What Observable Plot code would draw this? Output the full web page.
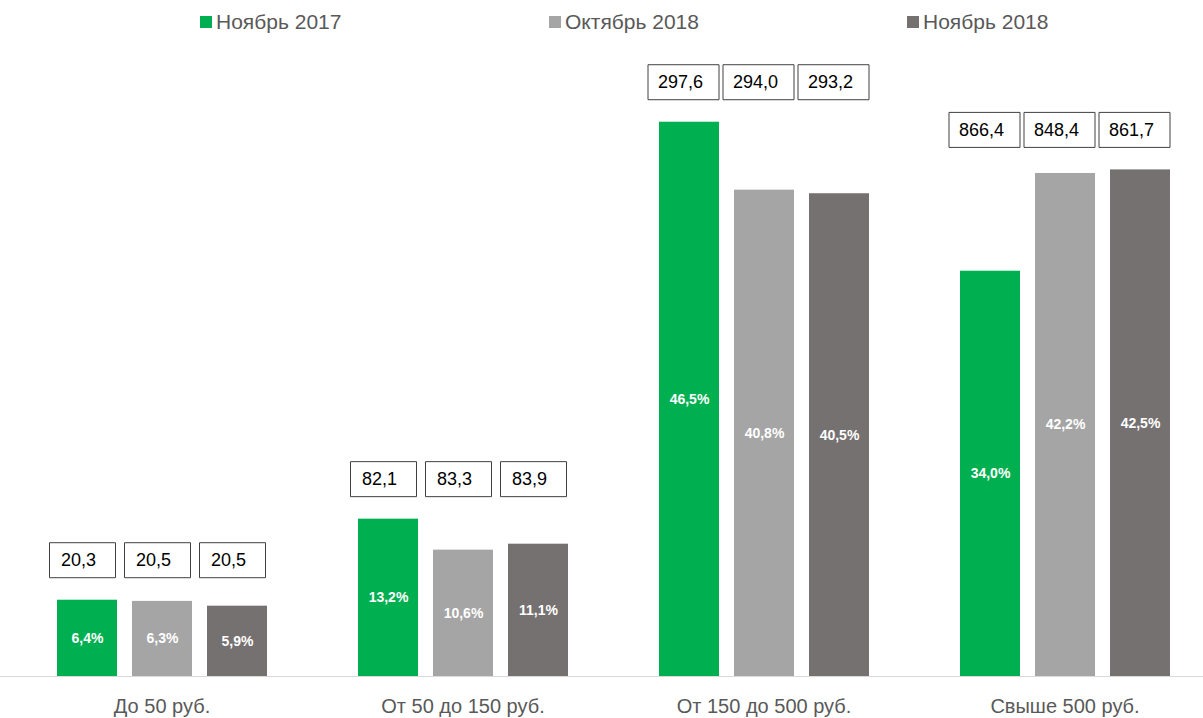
<!DOCTYPE html>
<html><head><meta charset="utf-8">
<script src="https://cdn.jsdelivr.net/npm/d3@7"></script>
<script src="https://cdn.jsdelivr.net/npm/@observablehq/plot@0.6"></script>
<style>
body{margin:0;background:#fff;overflow:hidden;font-family:"Liberation Sans",Arial,sans-serif;}
#legend{position:relative;height:45px;width:1203px;}
.item{position:absolute;top:10px;font-size:21px;line-height:24px;color:#595959;display:flex;align-items:center;white-space:nowrap;}
.sw{width:12px;height:12px;margin-right:4px;}
#chart svg{display:block;}
</style></head><body>
<div id="legend"></div><div id="chart"></div>
<script>
const categories = ["До 50 руб.", "От 50 до 150 руб.", "От 150 до 500 руб.", "Свыше 500 руб."];
const series = ["Ноябрь 2017", "Октябрь 2018", "Ноябрь 2018"];
const colors = ["#00B050", "#A5A5A5", "#767171"];
const shareNov2017 = [6.4, 13.2, 46.5, 34.0];
const shareOct2018 = [6.3, 10.6, 40.8, 42.2];
const shareNov2018 = [5.9, 11.1, 40.5, 42.5];
const amountNov2017 = ["20,3", "82,1", "297,6", "866,4"];
const amountOct2018 = ["20,5", "83,3", "294,0", "848,4"];
const amountNov2018 = ["20,5", "83,9", "293,2", "861,7"];

const shares = [shareNov2017, shareOct2018, shareNov2018];
const amounts = [amountNov2017, amountOct2018, amountNov2018];
const rows = [];
categories.forEach((c, i) => {
  const gmax = Math.max(...shares.map(s => s[i]));
  series.forEach((s, j) => rows.push({category: c, series: s, share: shares[j][i], amount: amounts[j][i], groupMax: gmax}));
});

// legend
const legend = document.getElementById("legend");
const legendLeft = [200, 549, 907];
series.forEach((s, j) => {
  const it = document.createElement("div");
  it.className = "item";
  it.style.left = legendLeft[j] + "px";
  it.innerHTML = `<span class="sw" style="background:${colors[j]}"></span><span>${s}</span>`;
  legend.appendChild(it);
});

function boxSymbol(w, h) {
  return {draw(ctx) {
    ctx.moveTo(-w/2, -h/2); ctx.lineTo(w/2, -h/2); ctx.lineTo(w/2, h/2); ctx.lineTo(-w/2, h/2); ctx.closePath();
  }};
}
const fmtPct = v => v.toFixed(1).replace(".", ",") + "%";

const chart = Plot.plot({
  width: 1203, height: 673,
  marginTop: 35, marginBottom: 42, marginLeft: 12, marginRight: 0,
  style: {fontFamily: "Liberation Sans, Arial, sans-serif", fontSize: "20px", color: "#595959", background: "white"},
  facet: {data: rows, x: "category"},
  fx: {domain: categories, range: [11, 1215], padding: 0, label: null, tickSize: 0, tickPadding: 22},
  x: {domain: series, paddingInner: 0.2, paddingOuter: 0.6, axis: null},
  y: {domain: [0, 50], axis: null},
  color: {domain: series, range: colors},
  marks: [
    Plot.ruleY([0], {stroke: "#D9D9D9", strokeWidth: 1, insetLeft: -12}),
    Plot.barY(rows, {x: "series", y: "share", fill: "series"}),
    Plot.text(rows, {x: "series", y: d => d.share / 2, text: d => fmtPct(d.share), fill: "white", fontWeight: "bold", fontSize: 14}),
    Plot.dot(rows, {filter: d => d.amount.length <= 4, x: "series", y: "groupMax", dx: -5, dy: -40, symbol: boxSymbol(66, 35), fill: "white", stroke: "#404040", strokeWidth: 1}),
    Plot.dot(rows, {filter: d => d.amount.length > 4, x: "series", y: "groupMax", dx: -6, dy: -40, symbol: boxSymbol(71, 35), fill: "white", stroke: "#404040", strokeWidth: 1}),
    Plot.text(rows, {x: "series", y: "groupMax", dx: -9, dy: -40, text: "amount", fill: "black", fontSize: 18})
  ]
});
document.getElementById("chart").appendChild(chart);
</script>
</body></html>
